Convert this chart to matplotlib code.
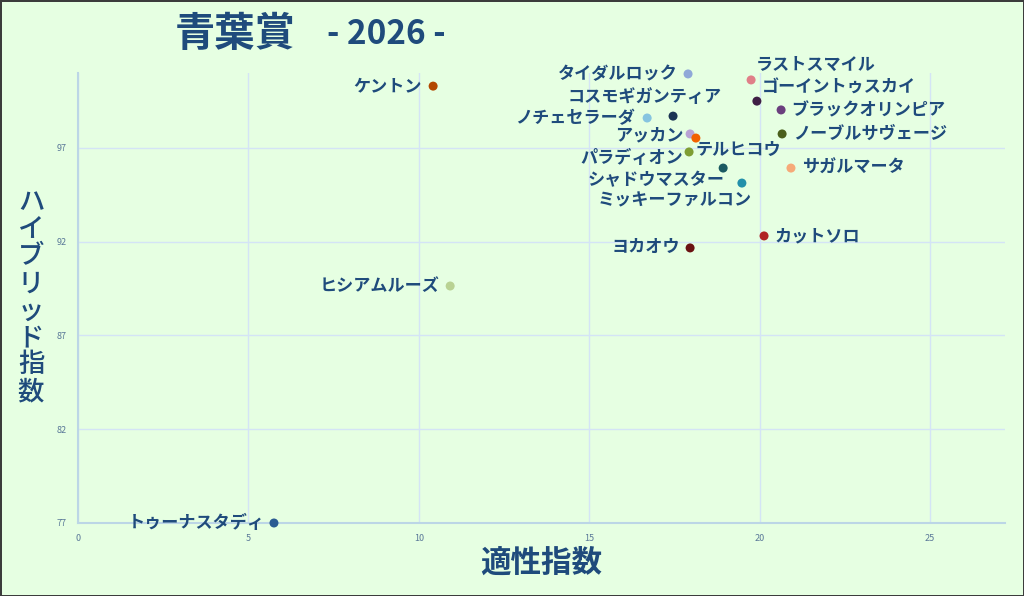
import numpy as np
import matplotlib

matplotlib.use('Agg')
import matplotlib.pyplot as plt

plt.rcParams['font.family'] = ['Noto Sans CJK JP', 'DejaVu Sans']

# --- данные ---
names = ['ケントン', 'タイダルロック', 'ラストスマイル', 'コスモギガンティア', 'ゴーイントゥスカイ',
         'ブラックオリンピア', 'ノチェセラーダ', 'アッカン', 'テルヒコウ', 'ノーブルサヴェージ',
         'パラディオン', 'シャドウマスター', 'サガルマータ', 'ミッキーファルコン', 'カットソロ',
         'ヨカオウ', 'ヒシアムルーズ', 'トゥーナスタディ']
aptitude = [10.42, 17.9, 19.75, 17.46, 19.92, 20.63, 16.7, 17.96, 18.13, 20.66,
            17.93, 18.93, 20.92, 19.48, 20.13, 17.96, 10.92, 5.75]
hybrid = [100.3, 100.95, 100.63, 98.7, 99.5, 99.03, 98.6, 97.75, 97.53, 97.75,
          96.79, 95.93, 95.93, 95.13, 92.31, 91.67, 89.64, 77.0]
colors = ['#b34700', '#8fa8d8', '#e07f88', '#1b3453', '#3f1f44', '#6b3f7e', '#86c4e0',
          '#b9a2d4', '#f26100', '#4b5f1c', '#7f9e33', '#1b5a62', '#f6aa78', '#2390aa',
          '#b02424', '#6b1212', '#b9d293', '#2b5b92']

x_ticks = [0, 5, 10, 15, 20, 25]
y_ticks = [77, 82, 87, 92, 97]

# смещения подписей (пиксели) и выравнивание
offsets = [(-11, 0, 'right'), (-10, 0, 'right'), (5, 15, 'left'), (49, 19, 'right'),
           (5, 13, 'left'), (10, 0, 'left'), (-12, 0, 'right'), (-7, -1, 'right'),
           (0, -12, 'left'), (11, 0, 'left'), (-6, -6, 'right'), (1, -12, 'right'),
           (11, 0, 'left'), (10, -17, 'right'), (10, 0, 'left'), (-10, 1, 'right'),
           (-11, 0, 'right'), (-9, 0, 'right')]

text_color = '#1f4b7c'
bg = '#e6ffe2'

fig = plt.figure(figsize=(10.24, 5.96), dpi=100, facecolor=bg,
                 edgecolor='#3c3c3c', linewidth=2)
ax = fig.add_axes([78 / 1024, 1 - 523 / 596, 927 / 1024, 450 / 596])
ax.set_facecolor(bg)

ax.set_xlim(0, 27.2)
ax.set_ylim(77, 101.0)
ax.set_xticks(x_ticks)
ax.set_yticks(y_ticks)
ax.grid(True, color='#d4e4f6', lw=1)
ax.set_axisbelow(True)
for s in ['top', 'right']:
    ax.spines[s].set_visible(False)
for s in ['left', 'bottom']:
    ax.spines[s].set_color('#bcd6e6')
    ax.spines[s].set_linewidth(1.5)
ax.tick_params(length=0, labelsize=6.5, labelcolor='#5a7898', pad=8)

ax.scatter(aptitude, hybrid, s=42, c=colors, zorder=3, edgecolors='none', clip_on=False)

for name, xv, yv, (dx, dy, ha) in zip(names, aptitude, hybrid, offsets):
    ax.annotate(name, (xv, yv), xytext=(dx * 0.72, dy * 0.72), textcoords='offset points',
                ha=ha, va='center', fontsize=12.3, fontweight='bold', color=text_color,
                zorder=4)

# заголовок
fig.text(235 / 1024, 1 - 35 / 596, '青葉賞', ha='center', va='center',
         fontsize=29, fontweight='bold', color=text_color)
fig.text(386 / 1024, 1 - 35 / 596, '- 2026 -', ha='center', va='center',
         fontsize=24, fontweight='bold', color=text_color)

# вертикальная подпись оси Y
for i, ch in enumerate('ハイブリッド指数'):
    fig.text(31 / 1024, 1 - (203 + 27 * i) / 596, ch, ha='center', va='center',
             fontsize=19, fontweight='medium', color=text_color)

fig.text(541 / 1024, 1 - 563 / 596, '適性指数', ha='center', va='center',
         fontsize=22, fontweight='bold', color=text_color)

fig.savefig('out.png', dpi=100, facecolor=bg, edgecolor='#3c3c3c')
